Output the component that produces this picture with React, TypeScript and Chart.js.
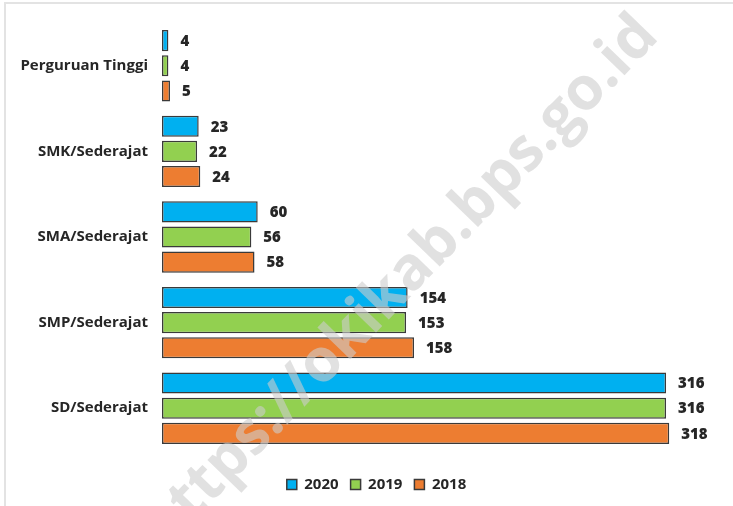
import React, { useEffect, useRef } from "react";
import { Chart, registerables } from "chart.js";

Chart.register(...registerables);

const categories = ["Perguruan Tinggi", "SMK/Sederajat", "SMA/Sederajat", "SMP/Sederajat", "SD/Sederajat"];
const seriesNames = ["2020", "2019", "2018"];
const values2020 = [4, 23, 60, 154, 316];
const values2019 = [4, 22, 56, 153, 316];
const values2018 = [5, 24, 58, 158, 318];
const seriesColors = ["#00B0F0", "#92D050", "#ED7D31"];
const watermarkText = "https://okikab.bps.go.id";

const FONT = "'Open Sans', Lato, sans-serif";

export default function App() {
  const ref = useRef<HTMLCanvasElement | null>(null);

  useEffect(() => {
    if (!ref.current) return;
    const allSeries = [values2020, values2019, values2018];

    const framePlugin = {
      id: "frame",
      beforeDraw(chart: any) {
        const ctx = chart.ctx;
        ctx.save();
        ctx.fillStyle = "#ffffff";
        ctx.fillRect(0, 0, chart.width, chart.height);
        ctx.strokeStyle = "#e3e3e3";
        ctx.lineWidth = 2;
        ctx.beginPath();
        ctx.moveTo(5, chart.height);
        ctx.lineTo(5, 3);
        ctx.lineTo(chart.width, 3);
        ctx.stroke();
        ctx.restore();
      },
      afterLayout(chart: any) {
        const lg = chart.legend;
        if (lg) {
          lg.left += 15;
          lg.right += 15;
        }
      },
    };

    const labelPlugin = {
      id: "valueLabels",
      afterDatasetsDraw(chart: any) {
        const ctx = chart.ctx;
        ctx.save();
        ctx.font = `800 15px ${FONT}`;
        ctx.fillStyle = "#262626";
        ctx.textAlign = "left";
        ctx.textBaseline = "middle";
        chart.data.datasets.forEach((ds: any, di: number) => {
          const meta = chart.getDatasetMeta(di);
          meta.data.forEach((el: any, i: number) => {
            ctx.fillText(String(ds.data[i]), el.x + 12, el.y + 1);
          });
        });
        ctx.restore();
      },
      afterDraw(chart: any) {
        const ctx = chart.ctx;
        ctx.save();
        ctx.translate(400, 283);
        ctx.rotate((-46 * Math.PI) / 180);
        ctx.font = `bold 60px ${FONT}`;
        ctx.fillStyle = "rgba(205,205,205,0.6)";
        ctx.textAlign = "center";
        ctx.textBaseline = "middle";
        ctx.fillText(watermarkText, 0, 0);
        ctx.restore();
      },
    };

    const chart = new Chart(ref.current, {
      type: "bar",
      data: {
        labels: categories,
        datasets: seriesNames.map((name, i) => ({
          label: name,
          data: allSeries[i],
          backgroundColor: seriesColors[i],
          borderColor: "#3a3a3a",
          borderWidth: 1.5,
          borderSkipped: false,
          categoryPercentage: 0.881,
          barPercentage: 0.84,
        })),
      },
      options: {
        indexAxis: "y",
        animation: false,
        responsive: false,
        maintainAspectRatio: false,
        layout: { padding: { top: 22, left: 0, right: 10, bottom: 4 } },
        scales: {
          x: {
            min: 0,
            max: 351.7,
            display: true,
            ticks: { display: false },
            grid: { display: false, drawTicks: false },
            border: { display: false },
            afterFit: (s: any) => {
              s.height = 14;
            },
          },
          y: {
            grid: { display: false, drawTicks: false },
            border: { display: false },
            ticks: {
              padding: 14,
              color: "#262626",
              font: { family: FONT, size: 15, weight: "bold" },
            },
            afterFit: (s: any) => {
              s.width = 162;
            },
          },
        },
        plugins: {
          legend: {
            position: "bottom",
            labels: {
              boxWidth: 10,
              boxHeight: 10,
              padding: 12,
              color: "#262626",
              font: { family: FONT, size: 15, weight: "bold" },
            },
          },
          tooltip: { enabled: false },
        },
      },
      plugins: [framePlugin, labelPlugin],
    } as any);

    return () => chart.destroy();
  }, []);

  return (
    <div style={{ position: "fixed", left: 0, top: 0, width: 733, height: 506 }}>
      <canvas ref={ref} width={733} height={506} style={{ display: "block" }} />
    </div>
  );
}
